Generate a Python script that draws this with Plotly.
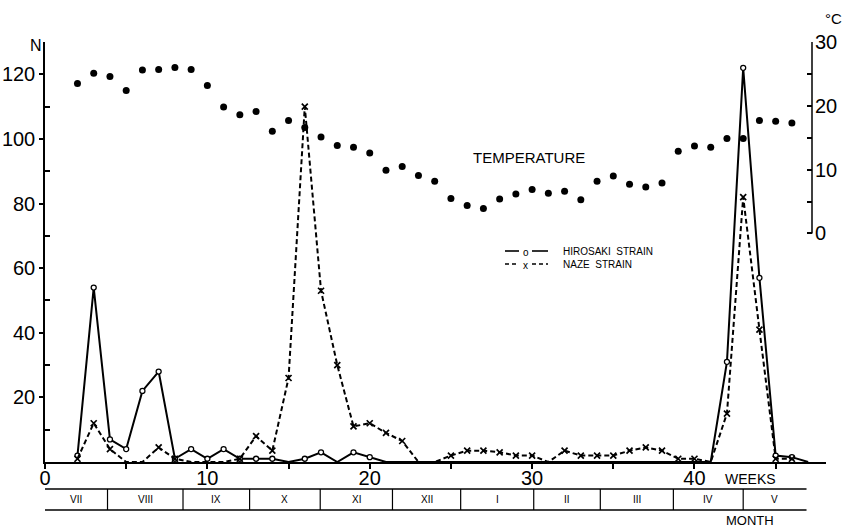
import plotly.graph_objects as go

# Weekly counts (N) of the two strains and weekly mean temperature (°C)
weeks_hirosaki = list(range(2, 48))
hirosaki = [2, 54, 7, 4, 22, 28, 1, 4, 1, 4, 1, 1, 1, 0, 1, 3, 0, 3, 1.5, 0] \
    + [0] * 20 + [31, 122, 57, 2, 1.5, 0]

weeks_naze = list(range(2, 47))
naze = [1, 12, 4, 0, 0, 4.5, 1, 0, 0, 0, 1, 8, 3.5, 26, 110, 53, 30, 11, 12, 9,
        6.5, 0, 0, 2, 3.5, 3.5, 3, 2, 2, 0, 3.5, 2, 2, 2, 3.5, 4.5, 3.5, 1, 1, 0,
        15, 82, 41, 1, 1]

weeks_temp = list(range(2, 47))
temperature = [23.5, 25.1, 24.6, 22.4, 25.6, 25.7, 26.0, 25.7, 23.2, 19.8, 18.6,
               19.1, 16.0, 17.7, 16.6, 15.1, 13.8, 13.5, 12.6, 9.9, 10.5, 9.1,
               8.2, 5.5, 4.4, 3.9, 5.4, 6.2, 6.9, 6.3, 6.6, 5.3, 8.2, 9.0, 7.7,
               7.3, 7.9, 12.9, 13.7, 13.5, 14.9, 14.9, 17.7, 17.6, 17.3]

# Month strip under the week axis (month boundaries in weeks)
month_names = ["VII", "VIII", "IX", "X", "XI", "XII", "I", "II", "III", "IV", "V"]
month_edges = [0, 3.85, 8.5, 12.6, 16.95, 21.4, 25.6, 30.1, 34.2, 38.7, 43.0, 46.9]

n_ticks = [20, 40, 60, 80, 100, 120]
n_minor = [10, 30, 50, 70, 90, 110]
week_ticks = [0, 5, 10, 15, 20, 25, 30, 35, 40, 45]
week_labels = ["0", "", "10", "", "20", "", "30", "", "40", ""]
temp_ticks = [0, 10, 20, 30]
temp_minor = [5, 15, 25]

FONT = "Liberation Sans"
INK = "black"

W, H = 845, 530
ML, MR, MT, MB = 45, 19, 42, 68
PW, PH = W - ML - MR, H - MT - MB


def px(x):
    """page x pixel -> paper fraction"""
    return (x - ML) / PW


def py(y):
    """page y pixel -> paper fraction"""
    return (H - MB - y) / PH


fig = go.Figure()

# Hirosaki strain: solid line, open circles on non-zero weeks
fig.add_trace(go.Scatter(x=weeks_hirosaki, y=hirosaki, mode="lines",
                         line=dict(color=INK, width=2), showlegend=False))
hx = [w for w, v in zip(weeks_hirosaki, hirosaki) if v > 0]
hy = [v for v in hirosaki if v > 0]
fig.add_trace(go.Scatter(x=hx, y=hy, mode="markers", showlegend=False,
                         marker=dict(symbol="circle", size=5, color="white",
                                     line=dict(color=INK, width=1.3))))

# Naze strain: dashed line, x marks on non-zero weeks
fig.add_trace(go.Scatter(x=weeks_naze, y=naze, mode="lines",
                         line=dict(color=INK, width=2, dash="5px,3px"),
                         showlegend=False))
nx = [w for w, v in zip(weeks_naze, naze) if v > 0]
ny = [v for v in naze if v > 0]
fig.add_trace(go.Scatter(x=nx, y=ny, mode="markers", showlegend=False,
                         marker=dict(symbol="x-thin-open", size=6, color=INK,
                                     line=dict(color=INK, width=1.7))))

# Temperature on the right-hand scale
fig.add_trace(go.Scatter(x=weeks_temp, y=temperature, yaxis="y2", mode="markers",
                         marker=dict(symbol="circle", size=7, color=INK),
                         showlegend=False))

AXIS_X = px(812)
shapes = []
# Right temperature axis line, 0-30 °C only
shapes.append(dict(type="line", xref="paper", yref="y2", x0=AXIS_X, x1=AXIS_X,
                   y0=0, y1=30, line=dict(color=INK, width=1.5)))
# Month strip
strip_top, strip_bot = py(489), py(510)
for yy in (strip_top, strip_bot):
    shapes.append(dict(type="line", xref="x", yref="paper",
                       x0=month_edges[0], x1=month_edges[-1], y0=yy, y1=yy,
                       line=dict(color=INK, width=1.5)))
for edge in month_edges[1:-1]:
    shapes.append(dict(type="line", xref="x", yref="paper", x0=edge, x1=edge,
                       y0=strip_top, y1=strip_bot, line=dict(color=INK, width=1.2)))

# Hand-made key: line samples with a glyph in the gap
key_rows = [(251, "o", "solid", "HIROSAKI  STRAIN"),
            (264, "x", "4px,3px", "NAZE  STRAIN")]
annotations = []
for y, glyph, dash, text in key_rows:
    for x0, x1 in ((505, 519), (532, 548)):
        shapes.append(dict(type="line", xref="paper", yref="paper",
                           x0=px(x0), x1=px(x1), y0=py(y), y1=py(y),
                           line=dict(color=INK, width=1.6, dash=dash)))
    annotations.append(dict(x=px(525.5), y=py(y + 1), xref="paper", yref="paper",
                            text=glyph, showarrow=False, xanchor="center",
                            yanchor="middle",
                            font=dict(family=FONT, size=10, color=INK)))
    annotations.append(dict(x=px(561), y=py(y), xref="paper", yref="paper",
                            text=text, showarrow=False, xanchor="left",
                            yanchor="middle",
                            font=dict(family=FONT, size=10, color=INK)))

for name, a, b in zip(month_names, month_edges[:-1], month_edges[1:]):
    annotations.append(dict(x=(a + b) / 2, y=(strip_top + strip_bot) / 2,
                            xref="x", yref="paper", text=name, showarrow=False,
                            xanchor="center", yanchor="middle",
                            font=dict(family=FONT, size=10, color=INK)))


def label(x, y, text, size, xanchor="center"):
    return dict(x=px(x), y=py(y), xref="paper", yref="paper", text=text,
                showarrow=False, xanchor=xanchor, yanchor="middle",
                font=dict(family=FONT, size=size, color=INK))


annotations += [
    label(36, 46, "N", 16),
    label(844, 19, "°C", 15, xanchor="right"),
    label(529, 157, "TEMPERATURE", 15),
    label(750, 479, "WEEKS", 14),
    label(750, 520, "MONTH", 13),
]

fig.update_layout(
    width=W, height=H,
    margin=dict(l=ML, r=MR, t=MT, b=MB, autoexpand=False),
    paper_bgcolor="white", plot_bgcolor="white",
    font=dict(family=FONT, color=INK),
    showlegend=False,
    shapes=shapes, annotations=annotations,
    xaxis=dict(range=[0, 48.1], showgrid=False, zeroline=False, automargin=False,
               showline=True, linecolor=INK, linewidth=1.5,
               tickmode="array", tickvals=week_ticks, ticktext=week_labels,
               ticks="outside", ticklen=5, tickcolor=INK, tickwidth=1.5,
               ticklabelstandoff=-8,
               tickfont=dict(family=FONT, size=20, color=INK)),
    yaxis=dict(range=[0, 130], showgrid=False, zeroline=False, automargin=False,
               showline=True, linecolor=INK, linewidth=1.5,
               tickmode="array", tickvals=n_ticks,
               ticks="outside", ticklen=4, tickcolor=INK, tickwidth=1.5,
               ticklabelstandoff=0,
               tickfont=dict(family=FONT, size=20, color=INK),
               minor=dict(tickmode="array", tickvals=n_minor, ticks="inside",
                          ticklen=5, tickcolor=INK, tickwidth=1.5, showgrid=False)),
    yaxis2=dict(range=[-35.8, 30], overlaying="y", anchor="free", position=AXIS_X,
                side="right", showgrid=False, zeroline=False, showline=False,
                automargin=False,
                tickmode="array", tickvals=temp_ticks,
                ticks="inside", ticklen=5, tickcolor=INK, tickwidth=1.5,
                ticklabelstandoff=2,
                tickfont=dict(family=FONT, size=20, color=INK),
                minor=dict(tickmode="array", tickvals=temp_minor, ticks="inside",
                           ticklen=5, tickcolor=INK, tickwidth=1.5, showgrid=False)),
)

fig.write_html("out.html")
